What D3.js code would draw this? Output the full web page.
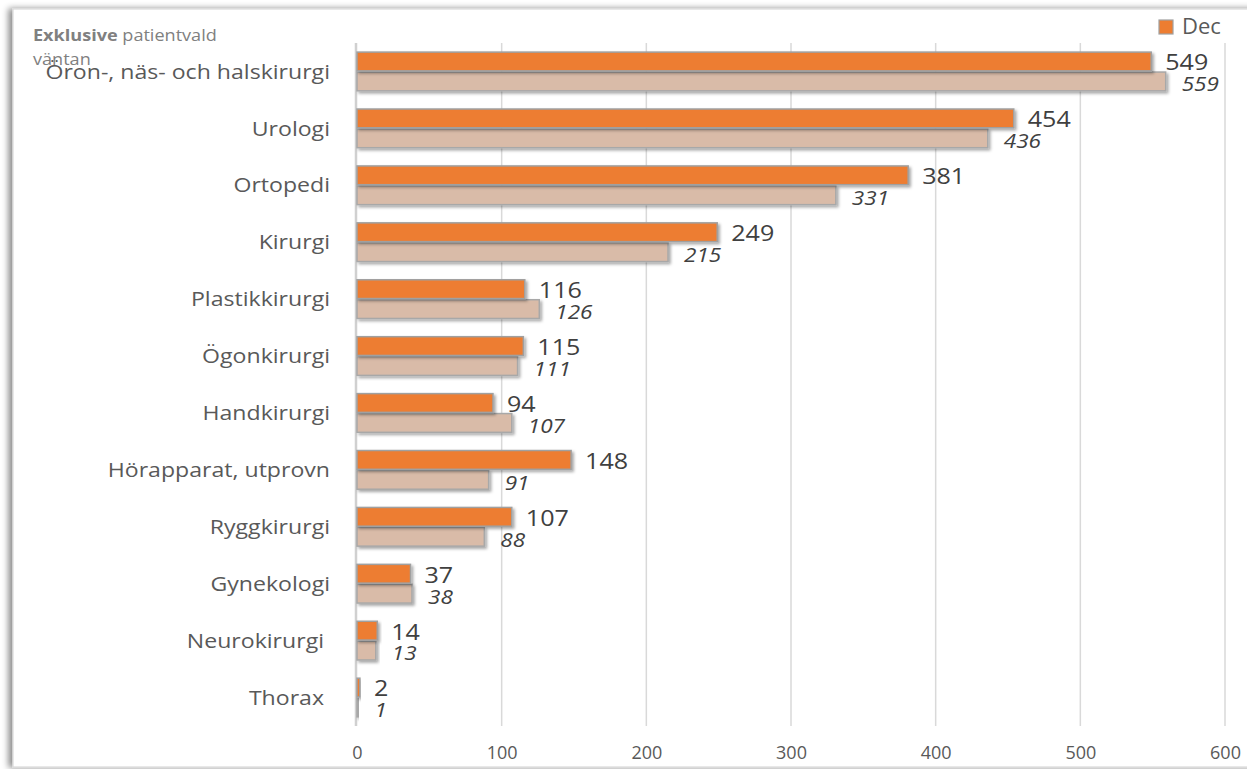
<!DOCTYPE html>
<html>
<head>
<meta charset="utf-8">
<script src="https://cdn.jsdelivr.net/npm/d3@7"></script>
<style>
  html, body { margin: 0; padding: 0; background: #fff; }
  svg { display: block; font-family: "Open Sans", "Noto Sans", sans-serif; }
</style>
</head>
<body>
<svg id="chart" width="1247" height="769"></svg>
<script>
const categories = ["Öron-, näs- och halskirurgi", "Urologi", "Ortopedi", "Kirurgi", "Plastikkirurgi", "Ögonkirurgi", "Handkirurgi", "Hörapparat, utprovn", "Ryggkirurgi", "Gynekologi", "Neurokirurgi\u00a0", "Thorax\u00a0"];
const decValues = [549, 454, 381, 249, 116, 115, 94, 148, 107, 37, 14, 2];
const prevValues = [559, 436, 331, 215, 126, 111, 107, 91, 88, 38, 13, 1];
const xTicks = [0, 100, 200, 300, 400, 500, 600];
const seriesNames = ["Dec", "Föregående"];

const svg = d3.select("#chart");
const W = 1247, H = 769;
const m = { left: 357, right: 1225, top: 43, bottom: 726 };
const SX = 1.14; // horizontal stretch of the source rendering

const defs = svg.append("defs");
const sh = defs.append("filter").attr("id", "barShadow").attr("x", "-10%").attr("y", "-40%").attr("width", "130%").attr("height", "200%");
sh.append("feDropShadow").attr("dx", 2).attr("dy", 2).attr("stdDeviation", 1.6).attr("flood-color", "#000").attr("flood-opacity", 0.35);
const fs = defs.append("filter").attr("id", "frameShadow").attr("x", "-5%").attr("y", "-5%").attr("width", "110%").attr("height", "110%");
fs.append("feDropShadow").attr("dx", -4).attr("dy", 0).attr("stdDeviation", 3).attr("flood-color", "#000").attr("flood-opacity", 0.45);

// frame
svg.append("rect").attr("x", 13).attr("y", 9).attr("width", W).attr("height", 758)
  .attr("fill", "#fff").attr("stroke", "#d9d9d9").attr("stroke-width", 1.2)
  .attr("filter", "url(#frameShadow)");

const x = d3.scaleLinear().domain([0, 600]).range([m.left, m.right]);
const y = d3.scaleBand().domain(categories).range([m.top, m.bottom]).paddingInner(0.32).paddingOuter(0.16);
const yInner = d3.scaleBand().domain(seriesNames).range([0, y.bandwidth()]).paddingInner(0.06);

// gridlines
svg.append("g").selectAll("line").data(xTicks.slice(1)).join("line")
  .attr("x1", d => x(d)).attr("x2", d => x(d))
  .attr("y1", m.top).attr("y2", m.bottom)
  .attr("stroke", "#d9d9d9").attr("stroke-width", 1.5);

// x-axis tick labels
const xAxis = d3.axisBottom(x).tickValues(xTicks).tickSize(0).tickPadding(0);
const gx = svg.append("g").attr("transform", `translate(0, 746)`).call(xAxis);
gx.select(".domain").remove();
gx.selectAll("text").attr("font-size", 18).attr("fill", "#595959")
  .attr("font-family", "'Open Sans', sans-serif").attr("dy", "0.72em");

// left axis line
svg.append("line").attr("x1", m.left - 1).attr("x2", m.left - 1).attr("y1", m.top).attr("y2", m.bottom)
  .attr("stroke", "#d0d0d0").attr("stroke-width", 2.5);

const rows = categories.map((c, i) => ({ c, dec: decValues[i], prev: prevValues[i] }));

const g = svg.append("g");
// previous bars
g.selectAll("rect.prev").data(rows).join("rect").attr("class", "prev")
  .attr("x", x(0)).attr("y", d => y(d.c) + yInner("Föregående"))
  .attr("width", d => x(d.prev) - x(0)).attr("height", yInner.bandwidth())
  .attr("fill", "#d9bba8").attr("stroke", "#a8a8a8").attr("stroke-width", 1.5)
  .attr("filter", "url(#barShadow)");
// dec bars
g.selectAll("rect.dec").data(rows).join("rect").attr("class", "dec")
  .attr("x", x(0)).attr("y", d => y(d.c) + yInner("Dec"))
  .attr("width", d => x(d.dec) - x(0)).attr("height", yInner.bandwidth())
  .attr("fill", "#ed7d31").attr("stroke", "#a0a0a0").attr("stroke-width", 1.5)
  .attr("filter", "url(#barShadow)");

// value labels
g.selectAll("text.decl").data(rows).join("text").attr("class", "decl")
  .attr("transform", d => `translate(${x(d.dec) + 14},${y(d.c) + yInner("Dec") + yInner.bandwidth() / 2 + 1}) scale(${SX},1)`)
  .attr("dy", "0.36em").attr("font-size", 22).attr("fill", "#404040")
  .text(d => d.dec);
g.selectAll("text.prevl").data(rows).join("text").attr("class", "prevl")
  .attr("transform", d => `translate(${x(d.prev) + 16},${y(d.c) + yInner("Föregående") + yInner.bandwidth() / 2 + 2.5}) scale(1.1,1)`)
  .attr("dy", "0.36em").attr("font-size", 20.5).attr("font-style", "italic").attr("fill", "#404040")
  .text(d => d.prev);

// category labels
svg.append("g").selectAll("text").data(categories).join("text")
  .attr("transform", d => `translate(330,${y(d) + y.bandwidth() / 2}) scale(1.155,1)`)
  .attr("dy", "0.36em").attr("text-anchor", "end")
  .attr("font-size", 20).attr("fill", "#595959")
  .style("white-space", "pre")
  .text(d => d);

// subtitle
const t = svg.append("text").attr("transform", "translate(33,41) scale(1.13,1)").attr("font-size", 16).attr("fill", "#808080");
t.append("tspan").attr("font-weight", "bold").text("Exklusive");
t.append("tspan").text(" patientvald");
svg.append("text").attr("transform", "translate(33,65) scale(1.13,1)").attr("font-size", 16).attr("fill", "#808080").text("väntan");

// legend
svg.append("rect").attr("x", 1159).attr("y", 20).attr("width", 14).attr("height", 14)
  .attr("fill", "#ed7d31").attr("stroke", "#a0a0a0").attr("stroke-width", 1.2);
svg.append("text").attr("x", 1182).attr("y", 34).attr("font-size", 22).attr("fill", "#595959").text(seriesNames[0]);
</script>
</body>
</html>
